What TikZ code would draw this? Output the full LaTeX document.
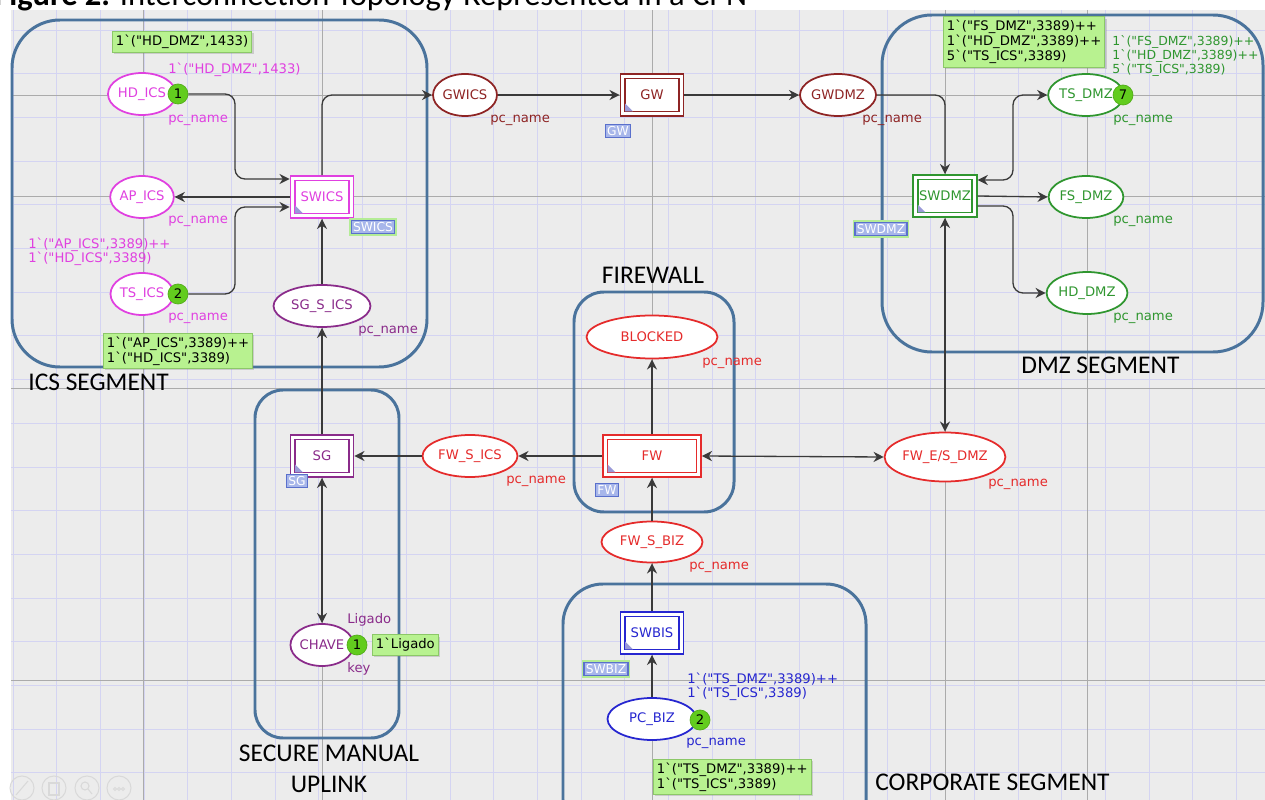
\documentclass[tikz,border=0pt]{standalone}
\usepackage{fontspec}
\setmainfont{Carlito}
\newfontfamily\cpnfont{DejaVu Sans}[Ligatures=TeXOff]
\usepackage{tikz}
\usetikzlibrary{shapes.geometric,arrows.meta,positioning,calc,shadows}
\definecolor{canvas}{HTML}{ECECEC}
\definecolor{gridlav}{HTML}{D4D4F2}
\definecolor{guidegray}{HTML}{ABABAB}
\definecolor{segblue}{HTML}{4A739C}
\definecolor{arcgray}{HTML}{3A3A3A}
\definecolor{icsmag}{HTML}{E040E0}
\definecolor{icspur}{HTML}{8A2B8A}
\definecolor{gwred}{HTML}{8E2424}
\definecolor{dmzgreen}{HTML}{2F962F}
\definecolor{fwred}{HTML}{E52B2B}
\definecolor{bizblue}{HTML}{2626D0}
\definecolor{tokgreen}{HTML}{62CC1E}
\definecolor{initgreen}{HTML}{B8F290}
\definecolor{initborder}{HTML}{8CC868}
\definecolor{tagfill}{HTML}{A7B6EA}
\definecolor{tagdraw}{HTML}{5A70CC}
\definecolor{glowgreen}{HTML}{B4EC96}
\definecolor{cornerlav}{HTML}{9A9AD8}

\begin{document}
\begin{tikzpicture}[
        x=0.02cm, y=-0.02cm,
        cpntext/.style={font=\cpnfont\fontsize{7.5}{9}\selectfont},
        placestyle/.style={ellipse, draw=#1, text=#1, fill=white, line width=1pt, inner sep=0pt, minimum height=0.84cm, cpntext},
        transstyle/.style={rectangle, draw=#1, text=#1, fill=white, line width=1pt, minimum width=1.26cm, minimum height=0.84cm, cpntext,
          path picture={
            \draw[#1, line width=0.9pt] ([shift={(2.6pt,2.6pt)}]path picture bounding box.south west) rectangle ([shift={(-2.6pt,-2.6pt)}]path picture bounding box.north east);
            \fill[cornerlav] ([shift={(2.6pt,2.6pt)}]path picture bounding box.south west) -- ++(4.5pt,0pt) -- ++(-4.5pt,4.5pt) -- cycle;}},
        tokstyle/.style={circle, fill=tokgreen, draw=tokgreen!85!black, line width=0.4pt, inner sep=0pt, minimum size=0.4cm, text=black, cpntext},
        initstyle/.style={anchor=west, fill=initgreen, draw=initborder, line width=0.5pt, inner sep=2pt, align=left, text=black,
          font=\cpnfont\fontsize{7.5}{8.4}\selectfont, drop shadow={shadow xshift=1pt, shadow yshift=-1pt, opacity=0.3}},
        tagstyle/.style={fill=tagfill, draw=tagdraw, line width=0.6pt, text=white, inner sep=1pt, font=\cpnfont\fontsize{7}{8}\selectfont},
        glowtag/.style={tagstyle, preaction={draw=glowgreen, line width=2.6pt}},
        lblstyle/.style={anchor=west, inner sep=0pt, text=#1, align=left, font=\cpnfont\fontsize{7.5}{7.9}\selectfont},
        segstyle/.style={draw=segblue, line width=1.7pt, rounded corners=#1},
        seglbl/.style={inner sep=0pt, text=black, font=\fontsize{14.5}{17.6}\selectfont},
        pathstyle/.style={draw=arcgray, line width=0.75pt, rounded corners=0.2cm, -{Stealth[length=5.8pt,width=5.8pt,inset=1.9pt]}},
        bothstyle/.style={pathstyle, {Stealth[length=5.8pt,width=5.8pt,inset=1.9pt]}-{Stealth[length=5.8pt,width=5.8pt,inset=1.9pt]}},
        gridstyle/.style={draw=gridlav, line width=0.55pt},
        guidestyle/.style={draw=guidegray, line width=0.55pt},
        iconstyle/.style={draw=black!15, line width=0.6pt}
      ]
        \useasboundingbox (0,0) rectangle (1265,800);
        % canvas and grid
        \fill[canvas] (11,10) rectangle (1265,800);
        \foreach \gx in {0,...,28}
          \draw[gridstyle] ({13+43.7*\gx},10) -- ({13+43.7*\gx},800);
        \foreach \gy in {0,...,17}
          \draw[gridstyle] (11,{30+43.7*\gy}) -- (1265,{30+43.7*\gy});
        \foreach \gx in {143,322,652,945,1087}
          \draw[guidestyle] (\gx,10) -- (\gx,800);
        \foreach \gy in {95,196,388,680}
          \draw[guidestyle] (11,\gy) -- (1265,\gy);

        \node[anchor=base west, inner sep=0pt, font=\fontsize{18.5}{22}\selectfont] (TITLE)
          at (-6,6) {\textbf{Figure 2.} Interconnection Topology Represented in a CPN};

        % segments
        \draw[segstyle=0.96cm] (12,20) rectangle (427,367);
        \draw[segstyle=1.0cm] (882,15) rectangle (1263,352);
        \draw[segstyle=0.6cm] (574,292) rectangle (734,512);
        \draw[segstyle=0.56cm] (255,390) rectangle (399,738);
        \draw[segstyle=0.8cm] (563,584) rectangle (866,840);
        \node[seglbl, anchor=west] (ICSLBL) at (28,382) {ICS SEGMENT};
        \node[seglbl, anchor=west] (DMZLBL) at (1021,365) {DMZ SEGMENT};
        \node[seglbl] (FWLBL) at (653,275) {FIREWALL};
        \node[seglbl, align=center] (SECLBL) at (329,769) {SECURE MANUAL\\UPLINK};
        \node[seglbl, anchor=west] (CORPLBL) at (875,782) {CORPORATE SEGMENT};

        % ICS segment
        \node[initstyle] (HDICSINIT) at (112,42) {1`("HD\_DMZ",1433)};
        \node[placestyle=icsmag, minimum width=1.26cm] (HDICS) at (142,94) {HD\_ICS};
        \node[tokstyle] (TOKHDICS) at (178,94) {1};
        \node[lblstyle=icsmag] (HDICSLBL) at (168,70) {1`("HD\_DMZ",1433)};
        \node[lblstyle=icsmag] (HDICSPC) at (168,120) {pc\_name};
        \node[placestyle=icsmag, minimum width=1.26cm] (APICS) at (142,197) {AP\_ICS};
        \node[lblstyle=icsmag] (APICSPC) at (168,221) {pc\_name};
        \node[lblstyle=icsmag] (TSICSLBL) at (28,252) {1`("AP\_ICS",3389)++\\1`("HD\_ICS",3389)};
        \node[placestyle=icsmag, minimum width=1.26cm] (TSICS) at (142,294) {TS\_ICS};
        \node[tokstyle] (TOKTSICS) at (178,294) {2};
        \node[lblstyle=icsmag] (TSICSPC) at (168,318) {pc\_name};
        \node[initstyle] (TSICSINIT) at (103,351) {1`("AP\_ICS",3389)++\\1`("HD\_ICS",3389)};
        \node[transstyle=icsmag] (SWICS) at (322,197) {SWICS};
        \node[glowtag] (TAGSWICS) at (373,227) {SWICS};
        \node[placestyle=icspur, minimum width=1.94cm] (SGSICS) at (322,306) {SG\_S\_ICS};
        \node[lblstyle=icspur] (SGSICSPC) at (358,331) {pc\_name};

        % gateway
        \node[placestyle=gwred, minimum width=1.28cm] (GWICS) at (465,95) {GWICS};
        \node[lblstyle=gwred] (GWICSPC) at (490,120) {pc\_name};
        \node[transstyle=gwred] (GW) at (652,95) {GW};
        \node[tagstyle] (TAGGW) at (618,131) {GW};
        \node[placestyle=gwred, minimum width=1.28cm] (GWDMZ) at (838,95) {GWDMZ};
        \node[lblstyle=gwred] (GWDMZPC) at (862,120) {pc\_name};

        % DMZ segment
        \node[initstyle] (TSDMZINIT) at (943,42) {1`("FS\_DMZ",3389)++\\1`("HD\_DMZ",3389)++\\5`("TS\_ICS",3389)};
        \node[lblstyle=dmzgreen, font=\cpnfont\fontsize{7.1}{7.7}\selectfont] (TSDMZLBL) at (1112,56) {1`("FS\_DMZ",3389)++\\1`("HD\_DMZ",3389)++\\5`("TS\_ICS",3389)};
        \node[transstyle=dmzgreen] (SWDMZ) at (945,196) {SWDMZ};
        \node[glowtag] (TAGSWDMZ) at (881,229) {SWDMZ};
        \node[placestyle=dmzgreen, minimum width=1.26cm] (TSDMZ) at (1086,95) {TS\_DMZ};
        \node[tokstyle] (TOKTSDMZ) at (1123,95) {7};
        \node[lblstyle=dmzgreen] (TSDMZPC) at (1113,120) {pc\_name};
        \node[placestyle=dmzgreen, minimum width=1.26cm] (FSDMZ) at (1086,197) {FS\_DMZ};
        \node[lblstyle=dmzgreen] (FSDMZPC) at (1113,221) {pc\_name};
        \node[placestyle=dmzgreen, minimum width=1.26cm] (HDDMZ) at (1087,293) {HD\_DMZ};
        \node[lblstyle=dmzgreen] (HDDMZPC) at (1113,318) {pc\_name};

        % firewall
        \node[placestyle=fwred, minimum width=2.62cm, minimum height=0.86cm] (BLOCKED) at (652,337) {BLOCKED};
        \node[lblstyle=fwred] (BLOCKEDPC) at (702,363) {pc\_name};
        \node[transstyle=fwred, minimum width=1.96cm] (FW) at (652,456) {FW};
        \node[tagstyle] (TAGFW) at (607,490) {FW};
        \node[placestyle=fwred, minimum width=2.36cm, minimum height=0.98cm] (FWESDMZ) at (945,457) {FW\_E/S\_DMZ};
        \node[lblstyle=fwred] (FWESDMZPC) at (988,484) {pc\_name};
        \node[placestyle=fwred, minimum width=1.9cm] (FWSICS) at (470,456) {FW\_S\_ICS};
        \node[lblstyle=fwred] (FWSICSPC) at (506,481) {pc\_name};
        \node[placestyle=fwred, minimum width=2.02cm, minimum height=0.82cm] (FWSBIZ) at (652,542) {FW\_S\_BIZ};
        \node[lblstyle=fwred] (FWSBIZPC) at (689,567) {pc\_name};

        % secure manual uplink
        \node[transstyle=icspur] (SG) at (322,456) {SG};
        \node[tagstyle] (TAGSG) at (297,481) {SG};
        \node[placestyle=icspur, minimum width=1.26cm] (CHAVE) at (322,645) {CHAVE};
        \node[tokstyle] (TOKCHAVE) at (357,645) {1};
        \node[lblstyle=icspur] (CHAVELIG) at (347,620) {Ligado};
        \node[lblstyle=icspur] (CHAVEKEY) at (347,669) {key};
        \node[initstyle] (CHAVEINIT) at (372,645) {1`Ligado};

        % corporate segment
        \node[transstyle=bizblue] (SWBIS) at (652,633) {SWBIS};
        \node[glowtag] (TAGSWBIZ) at (606,669) {SWBIZ};
        \node[lblstyle=bizblue] (PCBIZLBL) at (687,687) {1`("TS\_DMZ",3389)++\\1`("TS\_ICS",3389)};
        \node[placestyle=bizblue, minimum width=1.78cm] (PCBIZ) at (652,719) {PC\_BIZ};
        \node[tokstyle] (TOKPCBIZ) at (700,720) {2};
        \node[lblstyle=bizblue] (PCBIZPC) at (686,743) {pc\_name};
        \node[initstyle] (PCBIZINIT) at (653,777) {1`("TS\_DMZ",3389)++\\1`("TS\_ICS",3389)};

        % arcs
        \coordinate (HDBEND) at (235,94);
        \coordinate (TSBEND) at (235,294);
        \coordinate (TSDMZBEND) at (1013,95);
        \coordinate (HDDMZBEND) at (1013,293);
        \draw[pathstyle] (TOKHDICS.east) -- (HDBEND) |- ($(SWICS.west)+(0,-18)$);
        \draw[pathstyle] (SWICS.west) -- (APICS.east);
        \draw[pathstyle] (TOKTSICS.east) -- (TSBEND) |- ($(SWICS.west)+(0,10)$);
        \draw[pathstyle] (SWICS.north) |- (GWICS.west);
        \draw[pathstyle] (SGSICS.north) -- (SWICS.south);
        \draw[pathstyle] (GWICS.east) -- (GW.west);
        \draw[pathstyle] (GW.east) -- (GWDMZ.west);
        \draw[pathstyle] (GWDMZ.east) -| (SWDMZ.north);
        \draw[bothstyle] ($(SWDMZ.east)+(0,-16)$) -| (TSDMZBEND) -- (TSDMZ.west);
        \draw[pathstyle] (SWDMZ.east) -- (FSDMZ.west);
        \draw[pathstyle] ($(SWDMZ.east)+(0,10)$) -| (HDDMZBEND) -- (HDDMZ.west);
        \draw[bothstyle] (SWDMZ.south) -- (FWESDMZ.north);
        \draw[pathstyle] (FW.north) -- (BLOCKED.south);
        \draw[bothstyle] (FW.east) -- (FWESDMZ.west);
        \draw[pathstyle] (FW.west) -- (FWSICS.east);
        \draw[pathstyle] (FWSICS.west) -- (SG.east);
        \draw[pathstyle] (SG.north) -- (SGSICS.south);
        \draw[bothstyle] (SG.south) -- (CHAVE.north);
        \draw[pathstyle] (FWSBIZ.north) -- (FW.south);
        \draw[pathstyle] (SWBIS.north) -- (FWSBIZ.south);
        \draw[pathstyle] (PCBIZ.north) -- (SWBIS.south);

        % toolbar icons
        \foreach \ix in {22,54,87,119}
          \draw[iconstyle] (\ix,788) circle (12);
        \draw[iconstyle] (16,795) -- (28,781);
        \draw[iconstyle] (49,783) rectangle (59,795);
        \draw[iconstyle] (85,786) circle (4) (88,789) -- (92,794);
        \foreach \dx in {-4,0,4}
          \draw[iconstyle] ({119+\dx},789) circle (1.5);
      \end{tikzpicture}
\end{document}
